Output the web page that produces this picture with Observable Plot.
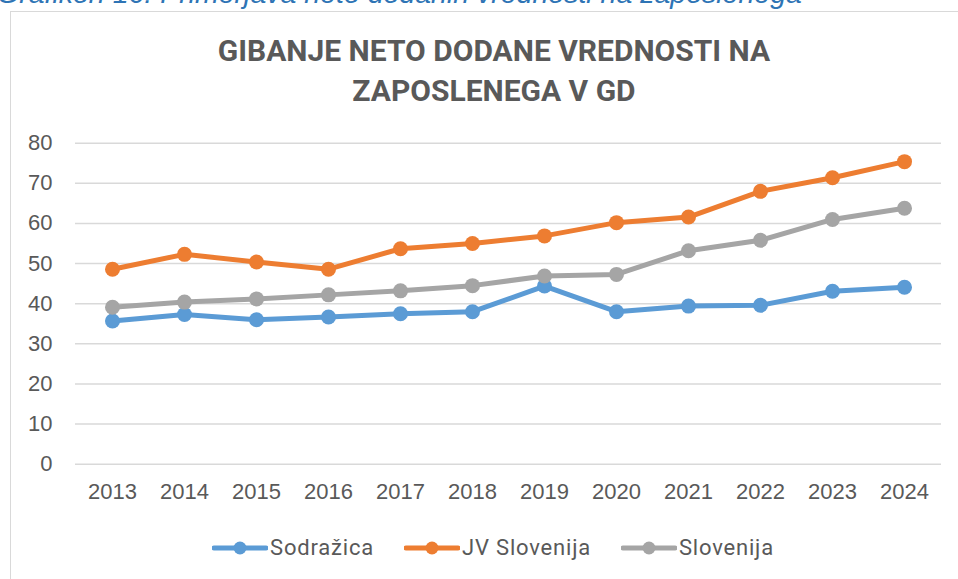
<!DOCTYPE html>
<html><head><meta charset="utf-8">
<script src="https://cdn.jsdelivr.net/npm/d3@7"></script>
<script src="https://cdn.jsdelivr.net/npm/@observablehq/plot@0.6"></script>
<style>
html,body{margin:0;padding:0;background:#fff;width:958px;height:579px;overflow:hidden;position:relative}
#caption{position:absolute;left:-3px;top:-23px;font:italic 28.5px "Liberation Sans",sans-serif;color:#2E74B5;white-space:nowrap;line-height:32px}
#frame{position:absolute;left:10px;top:11px;width:970px;height:620px;border-left:1.5px solid #d9d9d9;border-top:1.5px solid #d9d9d9}
#title{position:absolute;left:0;width:988px;top:31px;text-align:center;font:bold 30px Roboto,sans-serif;color:#595959;line-height:40px}
#chart{position:absolute;left:0;top:110px}
#legend{position:absolute;left:0;width:986px;top:535px;display:flex;justify-content:center;gap:30px;font:22px Roboto,sans-serif;letter-spacing:0.8px;color:#595959;align-items:center}
.item{display:flex;align-items:center;gap:2px}
</style></head><body>
<div id="caption">Grafikon 16: Primerjava neto dodanih vrednosti na zaposlenega</div>
<div id="frame"></div>
<div id="title">GIBANJE NETO DODANE VREDNOSTI NA<br>ZAPOSLENEGA V GD</div>
<div id="chart"></div>
<div id="legend"></div>
<script>
const years = ["2013","2014","2015","2016","2017","2018","2019","2020","2021","2022","2023","2024"];
const sodrazica = [35.7, 37.3, 36.0, 36.7, 37.5, 38.0, 44.4, 38.0, 39.4, 39.6, 43.1, 44.1];
const jvSlovenija = [48.6, 52.3, 50.4, 48.6, 53.7, 55.0, 56.9, 60.2, 61.6, 68.0, 71.4, 75.4];
const slovenija = [39.1, 40.4, 41.2, 42.2, 43.2, 44.5, 46.9, 47.3, 53.2, 55.8, 61.0, 63.8];
const seriesNames = ["Sodražica", "JV Slovenija", "Slovenija"];
const seriesColors = ["#5B9BD5", "#ED7D31", "#A5A5A5"];
const yTicks = [0, 10, 20, 30, 40, 50, 60, 70, 80];

const allSeries = [sodrazica, jvSlovenija, slovenija];
const rows = [];
allSeries.forEach((vals, s) => vals.forEach((v, i) => rows.push({year: years[i], value: v, series: seriesNames[s]})));

const marks = [Plot.gridY(yTicks, {stroke: "#d9d9d9", strokeOpacity: 1, strokeWidth: 1.5})];
seriesNames.forEach((name, s) => {
  const d = rows.filter(r => r.series === name);
  marks.push(Plot.line(d, {x: "year", y: "value", stroke: seriesColors[s], strokeWidth: 5, strokeLinejoin: "round"}));
  marks.push(Plot.dot(d, {x: "year", y: "value", fill: seriesColors[s], r: 7.5}));
});

const plot = Plot.plot({
  width: 958, height: 400,
  marginLeft: 75, marginRight: 17, marginTop: 32.7, marginBottom: 46.3,
  style: {fontFamily: "'Liberation Sans', sans-serif", fontSize: "22px", color: "#595959", background: "transparent"},
  x: {type: "point", domain: years, padding: 0.5, tickSize: 0, tickPadding: 19, label: null},
  y: {domain: [0, 80], ticks: yTicks, tickSize: 0, tickPadding: 23, label: null},
  marks
});
document.getElementById("chart").appendChild(plot);

const legend = document.getElementById("legend");
seriesNames.forEach((name, s) => {
  const it = document.createElement("div");
  it.className = "item";
  it.innerHTML = `<svg width="56" height="16"><line x1="2" x2="54" y1="8" y2="8" stroke="${seriesColors[s]}" stroke-width="5" stroke-linecap="round"/><circle cx="28" cy="8" r="6.5" fill="${seriesColors[s]}"/></svg><span>${name}</span>`;
  legend.appendChild(it);
});
</script>
</body></html>
